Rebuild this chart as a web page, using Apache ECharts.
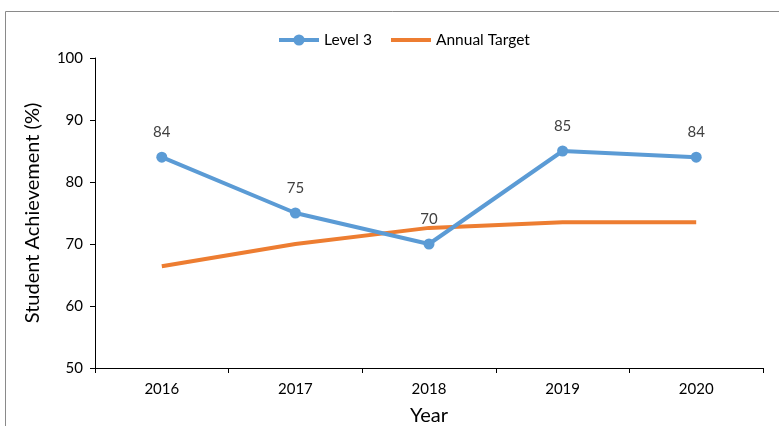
<!DOCTYPE html>
<html>
<head>
<meta charset="utf-8">
<script src="https://cdn.jsdelivr.net/npm/echarts@6/dist/echarts.min.js"></script>
<style>
  html, body { margin: 0; padding: 0; background: #fff; }
  #chart { width: 779px; height: 426px; }
</style>
</head>
<body>
<div id="chart"></div>
<script>
// Student achievement by year against the annual target
const years = ['2016', '2017', '2018', '2019', '2020'];
const level3 = [84, 75, 70, 85, 84];
const annualTarget = [66.4, 70, 72.6, 73.5, 73.5];
const yTicks = { min: 50, max: 100, interval: 10 };

const font = 'Lato, "Open Sans", sans-serif';
const chart = echarts.init(document.getElementById('chart'), null, { renderer: 'canvas' });

chart.setOption({
  animation: false,
  backgroundColor: '#fff',
  textStyle: { fontFamily: font },
  graphic: [{
    type: 'rect',
    shape: { x: 5.5, y: 11.5, width: 900, height: 600 },
    style: { fill: 'none', stroke: '#8a8a8a', lineWidth: 1 },
    silent: true
  }],
  legend: {
    top: 27,
    left: 272,
    itemWidth: 40,
    itemHeight: 14,
    itemGap: 19,
    textStyle: { fontFamily: font, fontSize: 15.5, color: '#000' },
    data: [
      { name: 'Level 3', lineStyle: { width: 4 } },
      { name: 'Annual Target', icon: 'path://M0,0 L40,0 L40,4 L0,4 Z' }
    ]
  },
  grid: { left: 95, right: 16, top: 58, bottom: 58, outerBoundsMode: 'none', containLabel: false },
  xAxis: {
    type: 'category',
    data: years,
    boundaryGap: true,
    name: 'Year',
    nameLocation: 'middle',
    nameGap: 38,
    nameTextStyle: { fontFamily: font, fontSize: 20, color: '#000' },
    axisLine: { lineStyle: { color: '#000', width: 1 } },
    axisTick: { show: true, alignWithLabel: false, length: 5, lineStyle: { color: '#000' } },
    axisLabel: { fontFamily: font, fontSize: 15, color: '#000', margin: 14 },
    splitLine: { show: false }
  },
  yAxis: {
    type: 'value',
    min: yTicks.min,
    max: yTicks.max,
    interval: yTicks.interval,
    name: 'Student Achievement (%)',
    nameLocation: 'middle',
    nameGap: 52,
    nameTextStyle: { fontFamily: font, fontSize: 20, color: '#000' },
    axisLine: { show: true, lineStyle: { color: '#000', width: 1 } },
    axisTick: { show: true, length: 5, lineStyle: { color: '#000' } },
    axisLabel: { fontFamily: font, fontSize: 15, color: '#000', margin: 12 },
    splitLine: { show: false }
  },
  series: [
    {
      name: 'Level 3',
      type: 'line',
      data: level3,
      color: '#5B9BD5',
      symbol: 'circle',
      symbolSize: 11,
      lineStyle: { width: 4, color: '#5B9BD5' },
      itemStyle: { color: '#5B9BD5' },
      label: {
        show: true,
        position: 'top',
        distance: 12,
        fontFamily: font,
        fontSize: 15,
        color: '#404040'
      },
      z: 3
    },
    {
      name: 'Annual Target',
      type: 'line',
      data: annualTarget,
      color: '#ED7D31',
      symbol: 'none',
      showSymbol: false,
      lineStyle: { width: 4, color: '#ED7D31' },
      itemStyle: { color: '#ED7D31' },
      z: 2
    }
  ]
});
</script>
</body>
</html>
